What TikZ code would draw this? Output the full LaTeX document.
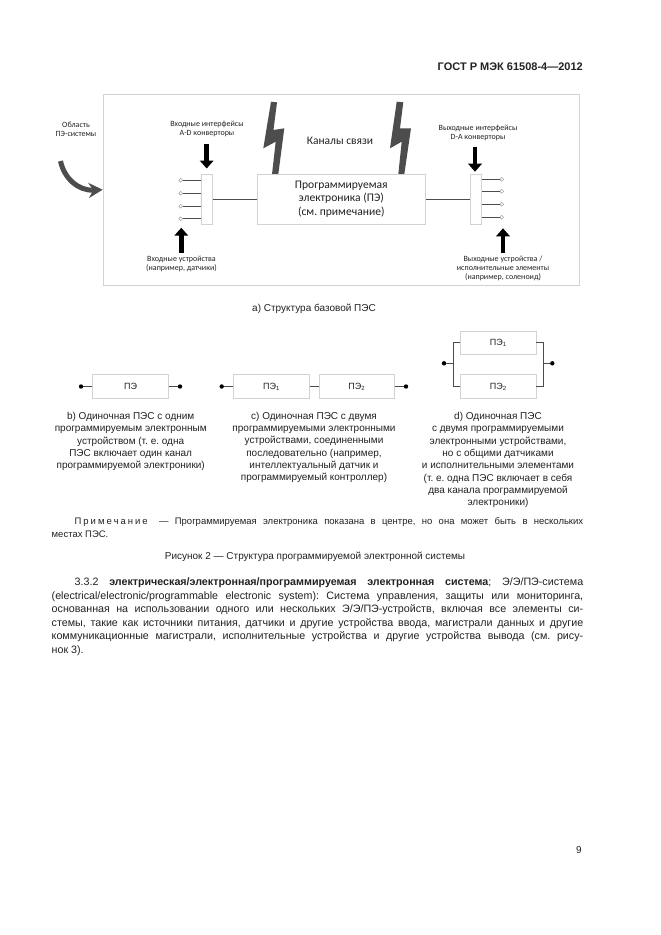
\documentclass[tikz,border=0pt]{standalone}
\usepackage{fontspec}
\setmainfont{Liberation Sans}
\newfontfamily\labelfont{Carlito}
\usetikzlibrary{arrows.meta,shadows}
\frenchspacing
\definecolor{boltgray}{HTML}{4D4D4D}
\definecolor{framegray}{HTML}{D2D2D2}
\definecolor{inkgray}{HTML}{222222}
\tikzset{
  frame/.style={draw=framegray, fill=white, line width=0.6pt, inner sep=0pt, drop shadow={opacity=0.18, shadow xshift=0.8pt, shadow yshift=-0.8pt}},
  pebox/.style={frame, font=\fontsize{9}{11}\selectfont, text=inkgray},
  wire/.style={draw=black!70, line width=0.6pt},
  pin/.style={circle, draw=black!45, fill=white, line width=0.4pt, minimum size=3.8pt, inner sep=0pt},
  dot/.style={circle, fill=black, minimum size=4.4pt, inner sep=0pt},
  bigarrow/.style={line width=4.6pt, -{Triangle[length=8pt,width=13.5pt]}, black},
  bolt/.style={fill=boltgray},
  tinytext/.style={align=center, inner sep=0pt, text=inkgray, font=\labelfont\fontsize{8}{9.2}\selectfont},
  caption/.style={align=center, inner sep=0pt, text=inkgray, font=\fontsize{10}{12.3}\selectfont},
  para/.style={align=justify, anchor=north west, inner sep=0pt, text width=531.5pt, text=inkgray}
}
\begin{document}
\begin{tikzpicture}[x=1pt, y=-1pt]
  \useasboundingbox (0,0) rectangle (661,935);
  \fill[white] (0,0) rectangle (661,935);
  \node[anchor=east, inner sep=0pt, font=\bfseries\fontsize{11}{13}\selectfont, text=inkgray] (head) at (583,67) {ГОСТ Р МЭК 61508-4---2012};

  % a) base structure
  \node[frame, minimum width=476pt, minimum height=190.5pt] (area) at (341,189.7) {};
  \fill[bolt] (271,101.7) -- (277,102.3) -- (273.5,130) -- (284.3,128.3) -- (278.3,174.3) -- (272,174.3) -- (275.7,141.7) -- (263.3,148.3) -- cycle;
  \fill[bolt] (396.7,101.7) -- (403.3,102.3) -- (400,128.3) -- (411,128.3) -- (404.3,174.3) -- (398.3,174.3) -- (401.7,141.7) -- (390,148.3) -- cycle;
  \node[frame, minimum width=168.7pt, minimum height=49.7pt, align=center, text=inkgray, font=\labelfont\fontsize{11.6}{13.8}\selectfont] (pe) at (341.3,199.2) {Программируемая\\электроника (ПЭ)\\(см. примечание)};
  \node[frame, minimum width=10.6pt, minimum height=49.7pt] (adc) at (207,199.2) {};
  \node[frame, minimum width=10.6pt, minimum height=49.7pt] (dac) at (476,199.2) {};
  \draw[wire] (adc) -- (pe);
  \draw[wire] (pe) -- (dac);
  \node[pin] (in1) at (180.7,180.3) {};
  \node[pin] (in2) at (180.7,193.3) {};
  \node[pin] (in3) at (180.7,206.3) {};
  \node[pin] (in4) at (180.7,218.7) {};
  \node[pin] (out1) at (501.7,179.3) {};
  \node[pin] (out2) at (501.7,191.3) {};
  \node[pin] (out3) at (501.7,204.3) {};
  \node[pin] (out4) at (501.7,217.3) {};
  \draw[wire] (in1) -- (in1 -| adc.west);
  \draw[wire] (in2) -- (in2 -| adc.west);
  \draw[wire] (in3) -- (in3 -| adc.west);
  \draw[wire] (in4) -- (in4 -| adc.west);
  \draw[wire] (out1) -- (out1 -| dac.east);
  \draw[wire] (out2) -- (out2 -| dac.east);
  \draw[wire] (out3) -- (out3 -| dac.east);
  \draw[wire] (out4) -- (out4 -| dac.east);
  \coordinate (adctop) at (206.7,144);
  \coordinate (adctip) at (206.7,168.5);
  \coordinate (intail) at (181.3,252.5);
  \coordinate (intip) at (181.3,227.7);
  \coordinate (dactop) at (475,146.7);
  \coordinate (dactip) at (475,171.7);
  \coordinate (outtail) at (503,253);
  \coordinate (outtip) at (503,228.3);
  \draw[bigarrow] (adctop) -- (adctip);
  \draw[bigarrow] (intail) -- (intip);
  \draw[bigarrow] (dactop) -- (dactip);
  \draw[bigarrow] (outtail) -- (outtip);
  \coordinate (bendstart) at (60.5,161);
  \draw[boltgray, line width=5pt, -{Stealth[length=14pt,width=15pt]}] (bendstart) .. controls (64,178) and (78,191) .. (area.west);
  \node[tinytext] (scope) at (76,129) {Область\\ПЭ-системы};
  \node[tinytext] (adcname) at (207,129) {Входные интерфейсы\\A-D конверторы};
  \node[tinytext] (inname) at (181.5,264) {Входные устройства\\(например, датчики)};
  \node[tinytext] (dacname) at (478,133) {Выходные интерфейсы\\D-A конверторы};
  \node[tinytext] (outname) at (503,268.5) {Выходные устройства /\\исполнительные элементы\\(например, соленоид)};
  \node[inner sep=0pt, text=inkgray, font=\labelfont\fontsize{11.5}{14}\selectfont] (channels) at (340,141) {Каналы связи};
  \node[caption] (capa) at (314,309) {а) Структура базовой ПЭС};

  % b) one device
  \node[pebox, minimum width=75.6pt, minimum height=24pt] (peb) at (130.5,386.5) {ПЭ};
  \node[dot] (bl) at (81,386.5) {};
  \node[dot] (br) at (180,386.5) {};
  \draw[wire] (bl) -- (peb);
  \draw[wire] (peb) -- (br);
  \node[caption] (capb) at (130.7,441.5) {b) Одиночная ПЭС с одним\\программируемым электронным\\устройством (т. е. одна\\ПЭС включает один канал\\программируемой электроники)};

  % c) two in series
  \node[pebox, minimum width=75.6pt, minimum height=24pt] (pec1) at (271.5,386.5) {ПЭ\textsubscript{1}};
  \node[pebox, minimum width=75pt, minimum height=24pt] (pec2) at (356.8,386.5) {ПЭ\textsubscript{2}};
  \node[dot] (cl) at (221.7,386.5) {};
  \node[dot] (cr) at (406,386.5) {};
  \draw[wire] (cl) -- (pec1);
  \draw[wire] (pec1) -- (pec2);
  \draw[wire] (pec2) -- (cr);
  \node[caption] (capc) at (314,447.5) {с) Одиночная ПЭС с двумя\\программируемыми электронными\\устройствами, соединенными\\последовательно (например,\\интеллектуальный датчик и\\программируемый контроллер)};

  % d) two in parallel
  \node[pebox, minimum width=75.3pt, minimum height=23pt] (ped1) at (498.3,342.5) {ПЭ\textsubscript{1}};
  \node[pebox, minimum width=75.3pt, minimum height=23.6pt] (ped2) at (498.3,386.5) {ПЭ\textsubscript{2}};
  \node[dot] (dl) at (444,363.3) {};
  \node[dot] (dr) at (552.3,363.3) {};
  \coordinate (busl) at (453.3,363.3);
  \coordinate (busr) at (543.3,363.3);
  \draw[wire] (dl) -- (busl);
  \draw[wire] (dr) -- (busr);
  \draw[wire] (ped1.west) -- (ped1.west -| busl) -- (ped2.west -| busl) -- (ped2.west);
  \draw[wire] (ped1.east) -- (ped1.east -| busr) -- (ped2.east -| busr) -- (ped2.east);
  \node[caption] (capd) at (498,460) {d) Одиночная ПЭС\\с двумя программируемыми\\электронными устройствами,\\но с общими датчиками\\и исполнительными элементами\\(т. е. одна ПЭС включает в себя\\два канала программируемой\\электроники)};

  % text below the figure
  \node[para, font=\fontsize{9.5}{13.3}\selectfont] (note) at (51.5,517) {\hspace*{23pt}\makebox[73pt][s]{П\hfill р\hfill и\hfill м\hfill е\hfill ч\hfill а\hfill н\hfill и\hfill е}\hspace{5pt} --- Программируемая электроника показана в центре, но она может быть в нескольких\linebreak местах ПЭС.};
  \node[caption] (fig) at (315,557) {Рисунок 2 --- Структура программируемой электронной системы};
  \node[para, font=\fontsize{10.7}{13.6}\selectfont] (body) at (51.5,577.5) {\hspace*{23pt}3.3.2 \textbf{электрическая/электронная/программируемая электронная система}; Э/Э/ПЭ-система\linebreak (electrical/electronic/programmable electronic system): Система управления, защиты или мониторинга,\linebreak основанная на использовании одного или нескольких Э/Э/ПЭ-устройств, включая все элементы си-\linebreak стемы, такие как источники питания, датчики и другие устройства ввода, магистрали данных и другие\linebreak коммуникационные магистрали, исполнительные устройства и другие устройства вывода (см. рису-\linebreak нок 3).};
  \node[inner sep=0pt, text=inkgray, font=\fontsize{10}{12}\selectfont] (page) at (579,850) {9};
\end{tikzpicture}
\end{document}
